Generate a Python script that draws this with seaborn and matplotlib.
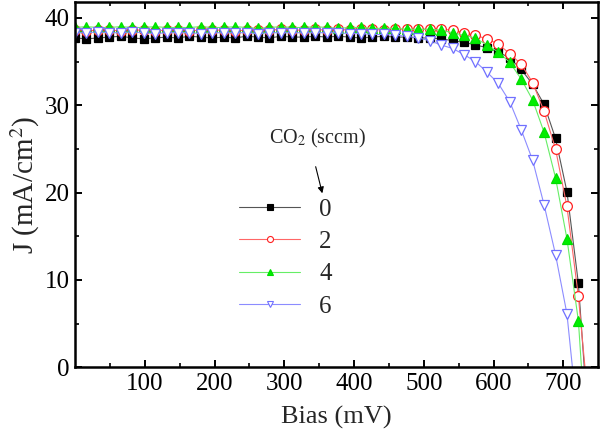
import matplotlib
matplotlib.use("Agg")
import matplotlib.pyplot as plt
import seaborn as sns
from matplotlib.lines import Line2D

# bias sweep (mV), same grid for all four samples
bias = [0, 16.4, 32.8, 49.2, 65.6, 82, 98.4, 114.8, 131.2, 147.6, 164, 180.4,
        196.8, 213.2, 229.6, 246, 262.4, 278.8, 295.2, 311.6, 328, 344.4, 360.8,
        377.2, 393.6, 410, 426.4, 442.8, 459.2, 475.6, 492, 508.4, 524.8, 541.2,
        557.6, 574, 590.4, 606.8, 623.2, 639.6, 656, 672.4, 688.8, 705.2, 721.6, 738]

# J (mA/cm2) for CO2 = 0, 2, 4, 6 sccm
j_co2_0 = [37.7, 37.6, 37.7, 37.8, 37.9, 37.7, 37.6, 37.7, 37.8, 37.7, 37.9, 37.8,
           37.7, 37.8, 37.7, 37.9, 37.8, 37.7, 37.9, 37.8, 37.8, 37.9, 37.8, 37.9,
           37.8, 37.7, 37.8, 37.9, 37.8, 37.8, 37.7, 37.7, 37.6, 37.4, 37.2, 36.9,
           36.6, 36.1, 35.4, 34.1, 32.4, 30.1, 26.2, 20.1, 9.6, -9.1]
j_co2_2 = [38.6, 38.5, 38.6, 38.6, 38.5, 38.6, 38.6, 38.5, 38.6, 38.6, 38.5, 38.6,
           38.6, 38.6, 38.5, 38.6, 38.6, 38.6, 38.7, 38.6, 38.6, 38.7, 38.6, 38.7,
           38.6, 38.7, 38.7, 38.6, 38.7, 38.7, 38.7, 38.7, 38.7, 38.6, 38.3, 38.0,
           37.6, 37.0, 35.9, 34.7, 32.6, 29.3, 25.0, 18.4, 8.1, -6.0]
j_co2_4 = [38.9, 39.0, 38.9, 38.9, 39.0, 38.9, 38.9, 39.0, 38.9, 38.9, 38.9, 39.0,
           38.9, 38.9, 39.0, 38.9, 38.8, 38.9, 39.0, 38.9, 38.9, 39.0, 38.9, 38.8,
           38.9, 38.9, 38.8, 38.8, 38.8, 38.7, 38.7, 38.7, 38.6, 38.3, 38.0, 37.7,
           36.9, 36.1, 34.9, 33.0, 30.6, 26.9, 21.7, 14.7, 5.3, -14.5]
j_co2_6 = [38.3, 38.3, 38.4, 38.3, 38.3, 38.4, 38.3, 38.2, 38.3, 38.3, 38.3, 38.2,
           38.3, 38.3, 38.3, 38.3, 38.2, 38.3, 38.3, 38.3, 38.3, 38.3, 38.3, 38.3,
           38.2, 38.2, 38.1, 38.1, 38.0, 37.9, 37.7, 37.4, 36.9, 36.5, 35.8, 35.0,
           33.8, 32.5, 30.4, 27.2, 23.7, 18.6, 12.9, 6.1, -6.7, -25.0]

labels = ["0", "2", "4", "6"]
series = [j_co2_0, j_co2_2, j_co2_4, j_co2_6]

line_colors = ["#555555", "#ff6666", "#66ee66", "#8c8cff"]
mark_edge = ["black", "#ff2020", "#00dd00", "#7070ff"]
mark_face = ["black", "white", "#00ee00", "white"]
markers = ["s", "o", "^", "v"]
msizes = [6, 7, 7.5, 7.5]

sns.set_theme(style="ticks")
plt.rcParams["font.family"] = ["Liberation Serif", "DejaVu Serif"]
plt.rcParams["mathtext.fontset"] = "stix"

fig = plt.figure(figsize=(6, 4.34), dpi=100)
ax = fig.add_axes([0.125, 0.154, 0.872, 0.841])

for j, lab, lc, me, mf, mk, ms in zip(series, labels, line_colors, mark_edge,
                                       mark_face, markers, msizes):
    sns.lineplot(x=bias, y=j, ax=ax, color=lc, lw=0.8, marker=mk, markersize=ms,
                 markeredgecolor=me, markerfacecolor=mf, markeredgewidth=0.9,
                 label=lab, legend=False)

ax.set_xlim(0, 750)
ax.set_ylim(0, 41.8)
ax.set_xticks([100, 200, 300, 400, 500, 600, 700])
ax.set_xticks([50, 150, 250, 350, 450, 550, 650], minor=True)
ax.set_yticks([0, 10, 20, 30, 40])
ax.set_yticks([5, 15, 25, 35], minor=True)
ax.tick_params(which="both", direction="in", top=True, right=True,
               labelsize=18, colors="black", pad=4)
ax.tick_params(which="major", length=5, width=1.4)
ax.tick_params(which="minor", length=3, width=1.2)
for sp in ax.spines.values():
    sp.set_linewidth(1.8)
    sp.set_color("black")

ax.set_xlabel("Bias (mV)", fontsize=19, labelpad=8)
ax.set_ylabel("J (mA/cm$^2$)", fontsize=21, labelpad=2)

# legend: line with a marker in the middle
handles = [Line2D([0], [0], color=lc, lw=0.8, marker=mk, markersize=ms * 0.62,
                  markeredgecolor=me, markerfacecolor=mf, markeredgewidth=0.8)
           for lc, me, mf, mk, ms in zip(line_colors, mark_edge, mark_face, markers, msizes)]
ax.legend(handles, labels, frameon=False, fontsize=18, loc="center left",
          bbox_to_anchor=(239 / 600, 1 - 258 / 434), bbox_transform=fig.transFigure,
          handlelength=2.45, handletextpad=0.75, labelspacing=0.4, borderpad=0,
          borderaxespad=0)

fig.text(318 / 600, 1 - 138 / 434, "CO$_2$ (sccm)", fontsize=14.5, ha="center", va="center")
ax.annotate("", xy=(323 / 600, 1 - 196 / 434), xytext=(315 / 600, 1 - 164 / 434),
            xycoords="figure fraction", textcoords="figure fraction",
            arrowprops=dict(arrowstyle="-|>", color="black", lw=0.8, mutation_scale=9))

fig.savefig("out.png", dpi=100)
